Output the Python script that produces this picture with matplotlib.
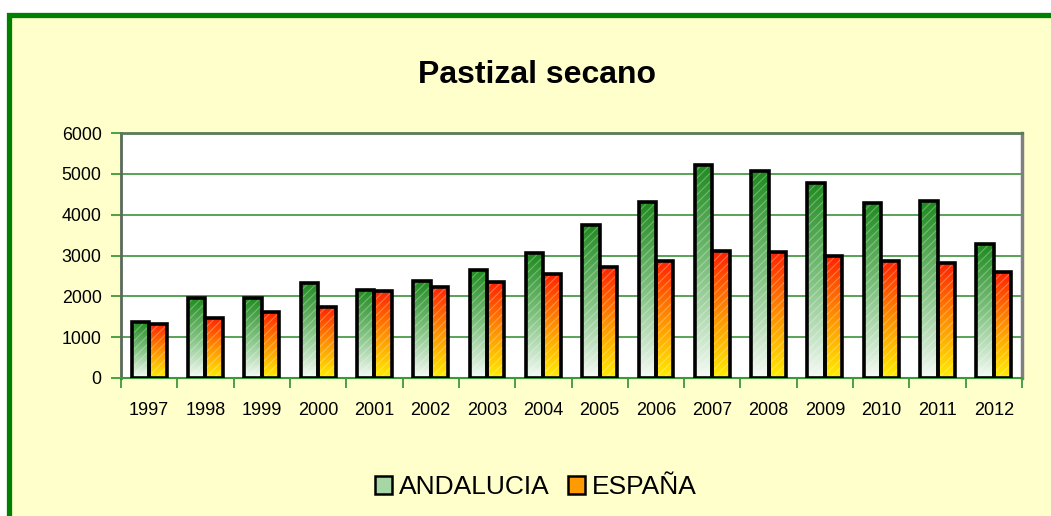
import numpy as np
import matplotlib.pyplot as plt
from matplotlib.patches import Rectangle, Patch
from matplotlib.colors import LinearSegmentedColormap

plt.rcParams['font.family'] = ['Liberation Sans', 'DejaVu Sans']
plt.rcParams['hatch.linewidth'] = 0.8

# --- Daten ---
years = ['1997', '1998', '1999', '2000', '2001', '2002', '2003', '2004',
         '2005', '2006', '2007', '2008', '2009', '2010', '2011', '2012']
andalucia = [1380, 1960, 1960, 2330, 2160, 2380, 2650, 3060,
             3750, 4310, 5220, 5070, 4780, 4290, 4330, 3280]
espana = [1330, 1480, 1620, 1740, 2140, 2230, 2350, 2550,
          2720, 2870, 3110, 3090, 2990, 2870, 2820, 2600]

cmap_and = LinearSegmentedColormap.from_list('and', ['#f6fbf6', '#80c280', '#1e8a1e'])
cmap_esp = LinearSegmentedColormap.from_list('esp', ['#ffee00', '#ff9000', '#ff2000'])

fig = plt.figure(figsize=(10.51, 5.16), dpi=100, facecolor='white')

# gelber Hintergrund mit gruenem Rahmen
W, H = 1051, 516
frame = Rectangle((8.5 / W, -0.05), 1.1, 1 - 14.5 / H + 0.05,
                  transform=fig.transFigure, facecolor='#ffffcc',
                  edgecolor='#008000', linewidth=3.8, zorder=-10)
fig.patches.append(frame)

ax = fig.add_axes([121 / W, 1 - 378 / H, (1022 - 121) / W, (378 - 133) / H])
ax.set_facecolor('white')

x = np.arange(len(years))
bw = 0.31
grad = np.linspace(0, 1, 256).reshape(-1, 1)


def gradient_bar(xc, h, cmap):
    ax.imshow(grad, cmap=cmap, origin='lower', aspect='auto',
              extent=[xc - bw / 2, xc + bw / 2, 0, h], zorder=2,
              interpolation='bilinear')
    ax.bar(xc, h, width=bw, facecolor='none', hatch='////',
           edgecolor=(1, 1, 1, 0.3), linewidth=0, zorder=3)
    ax.bar(xc, h, width=bw, facecolor='none', edgecolor='black',
           linewidth=2.6, zorder=4)


for i in range(len(years)):
    gradient_bar(x[i] - bw / 2, andalucia[i], cmap_and)
    gradient_bar(x[i] + bw / 2, espana[i], cmap_esp)

ax.set_xlim(-0.5, len(years) - 0.5)
ax.set_ylim(0, 6000)
ax.set_yticks(range(0, 6001, 1000))
ax.yaxis.grid(True, color='#2a8a2a', linewidth=1.1)
ax.set_axisbelow(True)

ax.set_xticks(x)
ax.set_xticklabels(years)
ax.set_xticks(np.arange(-0.5, len(years), 1), minor=True)
ax.tick_params(axis='x', which='major', length=0, pad=17, labelsize=13)
ax.tick_params(axis='x', which='minor', length=7, color='#3a9a3a', width=1.3, direction='out')
ax.tick_params(axis='y', length=7, color='#3a9a3a', width=1.3, pad=7, labelsize=12.8)

ax.spines['left'].set_color('#5a6a5a')
ax.spines['left'].set_linewidth(2)
ax.spines['top'].set_color('#5a7a5a')
ax.spines['top'].set_linewidth(2)
ax.spines['right'].set_color('#808080')
ax.spines['right'].set_linewidth(2.5)
ax.spines['bottom'].set_color('#3a9a3a')
ax.spines['bottom'].set_linewidth(1.5)

fig.text(537 / W, 1 - 75 / H, 'Pastizal secano', ha='center', va='center',
         fontsize=23, fontweight='bold')

handles = [Patch(facecolor='#a6d6a6', edgecolor='black', linewidth=1.8, label='ANDALUCIA'),
           Patch(facecolor='#ff9a00', edgecolor='black', linewidth=1.8, label='ESPAÑA')]
fig.legend(handles=handles, loc='center', bbox_to_anchor=(536 / W, 1 - 487 / H),
           ncol=2, frameon=False, fontsize=19, handlelength=0.65, handleheight=0.65,
           handletextpad=0.25, columnspacing=0.7)

fig.savefig('out.png', dpi=100, facecolor=fig.get_facecolor())
